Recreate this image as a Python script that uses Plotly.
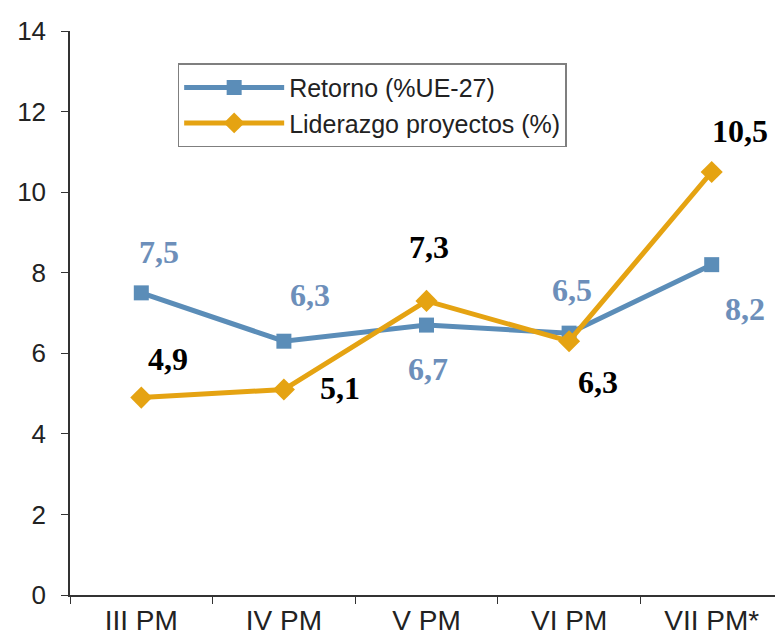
import plotly.graph_objects as go

categories = ["III PM", "IV PM", "V PM", "VI PM", "VII PM*"]
retorno = [7.5, 6.3, 6.7, 6.5, 8.2]
liderazgo = [4.9, 5.1, 7.3, 6.3, 10.5]
y_ticks = [0, 2, 4, 6, 8, 10, 12, 14]

blue = "#5b8db8"
blue_lbl = "#6d8fba"
orange = "#e5a312"

# label pixel offsets (style only)
ret_off = [(18, 41), (26, 46), (1, -44), (3, 43), (33, -44)]
lid_off = [(27, 39), (56, 2), (2, 54), (29, -41), (28, 41)]

fig = go.Figure()
fig.add_trace(go.Scatter(x=categories, y=retorno, mode="lines+markers",
                         name="Retorno (%UE-27)",
                         line=dict(color=blue, width=5),
                         marker=dict(symbol="square", size=15, color=blue)))
fig.add_trace(go.Scatter(x=categories, y=liderazgo, mode="lines+markers",
                         name="Liderazgo proyectos (%)",
                         line=dict(color=orange, width=5),
                         marker=dict(symbol="diamond", size=17, color=orange)))

def fmt(v):
    return f"{v:.1f}".replace(".", ",")

for c, v, (dx, dy) in zip(categories, retorno, ret_off):
    fig.add_annotation(x=c, y=v, text=f"<b>{fmt(v)}</b>", showarrow=False,
                       xshift=dx, yshift=dy,
                       font=dict(family="Liberation Serif", size=32, color=blue_lbl))
for c, v, (dx, dy) in zip(categories, liderazgo, lid_off):
    fig.add_annotation(x=c, y=v, text=f"<b>{fmt(v)}</b>", showarrow=False,
                       xshift=dx, yshift=dy,
                       font=dict(family="Liberation Serif", size=32, color="black"))

fig.update_layout(
    width=783, height=636,
    margin=dict(l=62, r=8, t=19, b=49),
    plot_bgcolor="white", paper_bgcolor="white",
    font=dict(family="Liberation Sans", color="#222"),
    showlegend=True,
    legend=dict(x=0.151, y=0.943, xanchor="left", yanchor="top",
                bgcolor="white", bordercolor="#7f7f7f", borderwidth=1.5,
                font=dict(family="Liberation Sans", size=25, color="#222"),
                tracegroupgap=0, itemwidth=100),
    xaxis=dict(type="category", range=[-0.5, 4.5], showgrid=False,
               showline=True, linecolor="#333", linewidth=1.5,
               ticks="outside", tickson="boundaries", ticklen=7, tickcolor="#333",
               tickfont=dict(family="Liberation Sans", size=28, color="#222")),
    yaxis=dict(range=[0, 14], tickvals=y_ticks, showgrid=False, zeroline=False,
               showline=True, linecolor="#333", linewidth=1.5,
               ticks="outside", ticklen=7, tickcolor="#333", ticklabelstandoff=10,
               tickfont=dict(family="Liberation Sans", size=26, color="#222")),
)

fig.write_html("out.html")
